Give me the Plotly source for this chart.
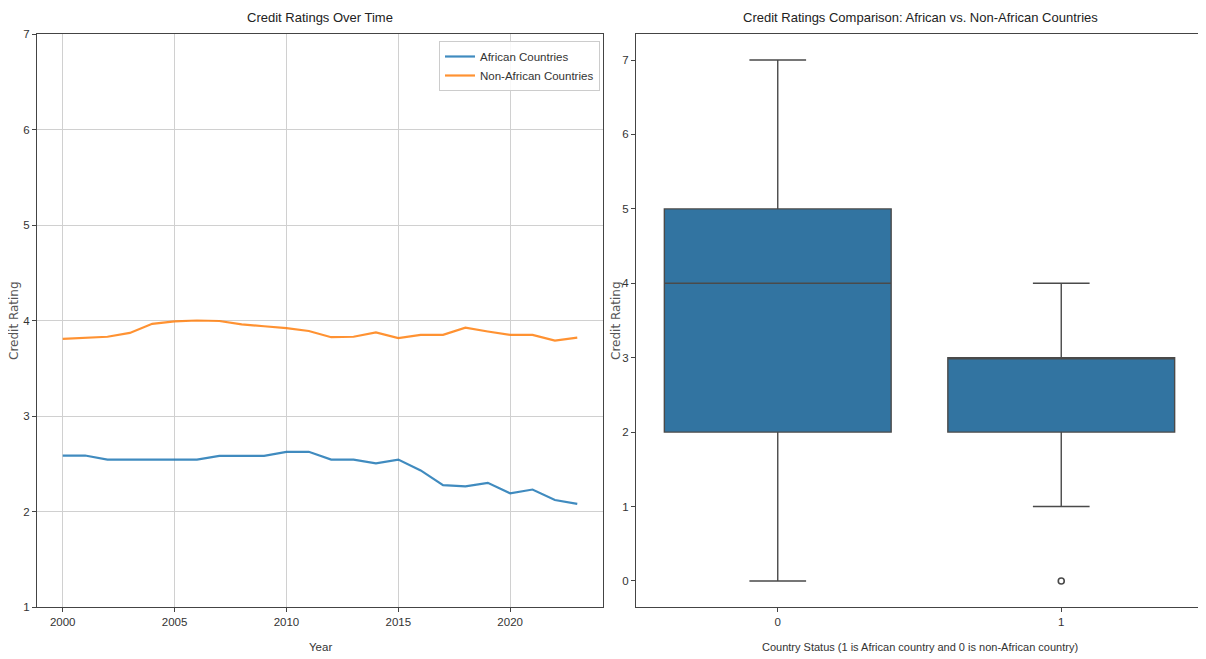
import plotly.graph_objects as go

years = list(range(2000, 2024))
african = [2.586, 2.586, 2.544, 2.544, 2.544, 2.544, 2.544, 2.583, 2.583, 2.583,
           2.625, 2.625, 2.544, 2.544, 2.505, 2.544, 2.43, 2.277, 2.263, 2.30,
           2.19, 2.23, 2.12, 2.08]
non_african = [3.807, 3.82, 3.83, 3.87, 3.965, 3.99, 4.0, 3.995, 3.96, 3.94,
               3.92, 3.89, 3.825, 3.83, 3.875, 3.815, 3.85, 3.85, 3.925, 3.885,
               3.85, 3.85, 3.79, 3.82]

status = [0, 1]
q1 = [2, 2]
median = [4, 3]
q3 = [5, 3]
lowerfence = [0, 1]
upperfence = [7, 4]
outlier_x = [1]
outlier_y = [0]

FONT = "Liberation Sans, Arial, sans-serif"
FONT_WIDE = "DejaVu Sans, sans-serif"

fig = go.Figure()
fig.add_trace(go.Scatter(x=years, y=african, mode="lines", name="African Countries",
                         line=dict(color="rgba(31,119,180,0.85)", width=2.2),
                         xaxis="x", yaxis="y"))
fig.add_trace(go.Scatter(x=years, y=non_african, mode="lines", name="Non-African Countries",
                         line=dict(color="rgba(255,127,14,0.85)", width=2.2),
                         xaxis="x", yaxis="y"))
fig.add_trace(go.Box(x=status, q1=q1, median=median, q3=q3,
                     lowerfence=lowerfence, upperfence=upperfence,
                     width=0.8, whiskerwidth=0.25,
                     fillcolor="#3274a1", line=dict(color="#4a4a4a", width=1.4),
                     showlegend=False, xaxis="x2", yaxis="y2", hoverinfo="skip"))
fig.add_trace(go.Scatter(x=outlier_x, y=outlier_y, mode="markers", showlegend=False,
                         marker=dict(symbol="circle-open", size=6, color="#4a4a4a",
                                     line=dict(width=1.6)),
                         xaxis="x2", yaxis="y2"))

# page body has an 8px margin, so the figure sits at (8, 8) in the window
OFF = 8
W, H = 1206 - OFF, 659 - OFF
def px(x): return (x - OFF) / W
def py(y): return 1 - (y - OFF) / H

axis_common = dict(showline=True, linecolor="#444444", linewidth=1.2, mirror=True,
                   ticks="outside", ticklen=4, tickcolor="#444444",
                   tickfont=dict(size=11.5, color="#333333", family=FONT),
                   zeroline=False, automargin=False)

fig.update_layout(
    width=W, height=H,
    margin=dict(l=0, r=0, t=0, b=0),
    paper_bgcolor="white", plot_bgcolor="white",
    font=dict(family=FONT, color="#333333"),
    xaxis=dict(domain=[px(37), px(603)], range=[1998.85, 2024.15],
               tickvals=[2000, 2005, 2010, 2015, 2020],
               showgrid=True, gridcolor="#d0d0d0", gridwidth=1, anchor="y", **axis_common),
    yaxis=dict(domain=[py(607), py(34)], range=[1, 7], tickvals=[1, 2, 3, 4, 5, 6, 7],
               showgrid=True, gridcolor="#d0d0d0", gridwidth=1, anchor="x", **axis_common),
    xaxis2=dict(domain=[px(636), px(1203)], range=[-0.5, 1.5], tickvals=[0, 1],
                showgrid=False, anchor="y2", **axis_common),
    yaxis2=dict(domain=[py(607), py(34)], range=[-0.35, 7.35], tickvals=list(range(8)),
                showgrid=False, anchor="x2", **axis_common),
    legend=dict(x=px(600), y=py(41), xanchor="right", yanchor="top",
                bgcolor="rgba(255,255,255,0.85)", bordercolor="#cccccc", borderwidth=1,
                itemwidth=30,
                font=dict(size=11.5, family=FONT, color="#333333")),
    annotations=[
        dict(text="Credit Ratings Over Time", x=px(320), y=py(17), xref="paper", yref="paper",
             xanchor="center", yanchor="middle",
             showarrow=False, font=dict(size=13, family=FONT, color="#222222")),
        dict(text="Credit Ratings Comparison: African vs. Non-African Countries", x=px(920), y=py(17),
             xref="paper", yref="paper", xanchor="center", yanchor="middle",
             showarrow=False, font=dict(size=13, family=FONT, color="#222222")),
        dict(text="Year", x=px(320), y=py(647), xref="paper", yref="paper",
             xanchor="center", yanchor="middle",
             showarrow=False, font=dict(size=11.5, family=FONT)),
        dict(text="Country Status (1 is African country and 0 is non-African country)", x=px(920), y=py(647),
             xref="paper", yref="paper", xanchor="center", yanchor="middle",
             showarrow=False, font=dict(size=11, family=FONT)),
        dict(text="Credit Rating", x=px(14), y=py(321), xref="paper", yref="paper", textangle=-90,
             xanchor="center", yanchor="middle",
             showarrow=False, font=dict(size=12, family=FONT_WIDE, color="#555555")),
        dict(text="Credit Rating", x=px(616), y=py(321), xref="paper", yref="paper", textangle=-90,
             xanchor="center", yanchor="middle",
             showarrow=False, font=dict(size=12, family=FONT_WIDE, color="#555555")),
    ],
)

fig.write_html("out.html")
